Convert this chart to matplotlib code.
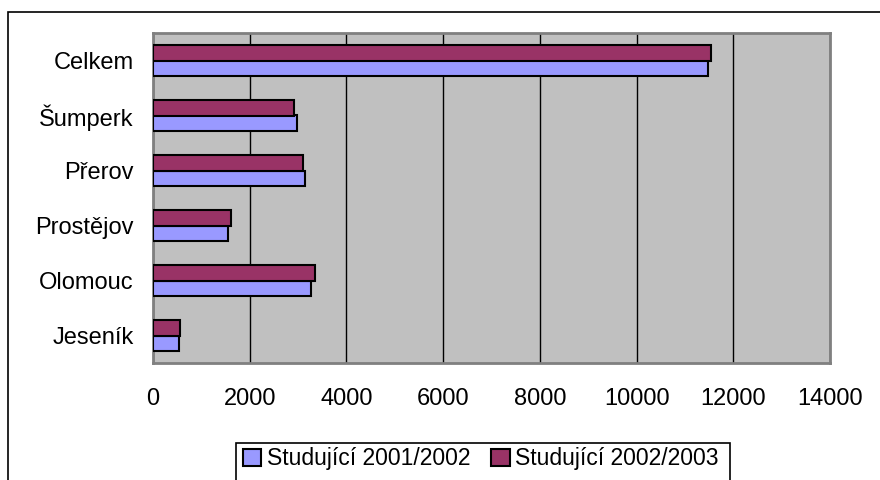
import numpy as np
import matplotlib.pyplot as plt
from matplotlib.patches import Rectangle, Patch

plt.rcParams['font.family'] = ['Liberation Sans', 'DejaVu Sans']

districts = ['Jeseník', 'Olomouc', 'Prostějov', 'Přerov', 'Šumperk', 'Celkem']
studujici_2001 = [535, 3260, 1560, 3150, 2985, 11480]
studujici_2002 = [565, 3345, 1615, 3100, 2915, 11535]
series_labels = ['Studující 2001/2002', 'Studující 2002/2003']

blue = '#9999FF'
maroon = '#993366'

fig = plt.figure(figsize=(8.8, 4.8), dpi=100)
ax = fig.add_axes([153/880, 1-363/480, (830-153)/880, (363-33)/480])
ax.set_facecolor('#C0C0C0')

y = np.arange(len(districts))
h = 0.29
ax.barh(y - h/2, studujici_2001, height=h, color=blue, edgecolor='black', linewidth=1.5, zorder=3)
ax.barh(y + h/2, studujici_2002, height=h, color=maroon, edgecolor='black', linewidth=1.5, zorder=3)

ax.set_xlim(0, 14000)
ax.set_ylim(-0.5, len(districts) - 0.5)
ax.set_xticks(np.arange(0, 14001, 2000))
ax.set_yticks(y)
ax.set_yticklabels(districts)
ax.tick_params(axis='both', length=0, labelsize=17)
ax.tick_params(axis='x', pad=18)
ax.tick_params(axis='y', pad=14)
ax.xaxis.grid(True, color='black', linewidth=1, zorder=1)
ax.set_axisbelow(True)
for s in ax.spines.values():
    s.set_color('#808080')
    s.set_linewidth(2)

# outer chart frame (runs off the right/bottom edge like the original)
fig.patches.append(Rectangle((8/880, -0.1), 1.0, 1 - 12/480 + 0.1, transform=fig.transFigure,
                             fill=False, edgecolor='black', linewidth=1.2, clip_on=False))
# legend frame
fig.patches.append(Rectangle((236/880, -0.1), (730-236)/880, 1 - 443/480 + 0.1, transform=fig.transFigure,
                             fill=False, edgecolor='black', linewidth=1.2, clip_on=False))

handles = [Patch(facecolor=blue, edgecolor='black', linewidth=1.5),
           Patch(facecolor=maroon, edgecolor='black', linewidth=1.5)]
fig.legend(handles, series_labels, loc='center', bbox_to_anchor=(481/880, 1 - 459/480),
           ncol=2, frameon=False, fontsize=16.5, handlelength=0.8, handleheight=0.8,
           handletextpad=0.25, columnspacing=0.9, borderpad=0)

fig.savefig('out.png', dpi=100)
